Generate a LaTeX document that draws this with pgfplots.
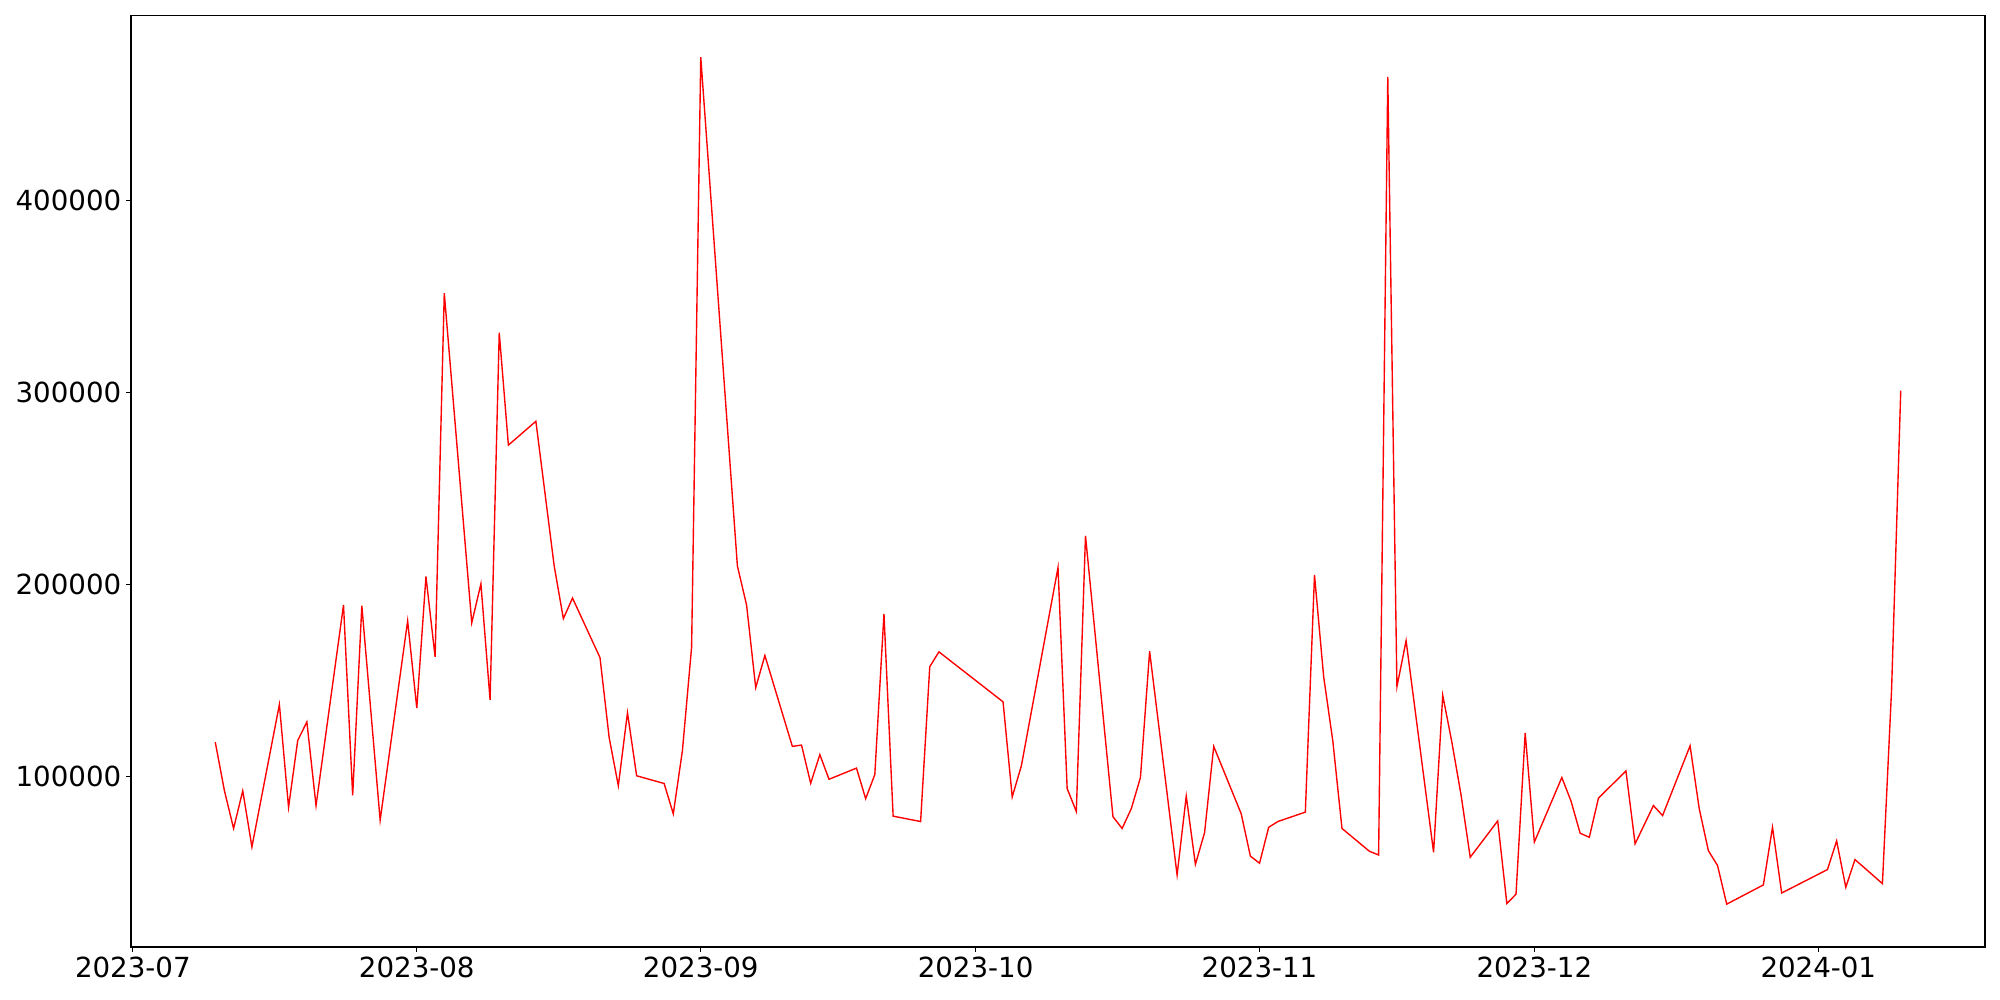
\documentclass[border=0pt]{standalone}
\usepackage{fontspec}
\setmainfont{DejaVu Sans}
\usepackage{pgfplots}
\pgfplotsset{compat=1.18}
\begin{document}
\begin{tikzpicture}
\path[use as bounding box] (-1.31in,-0.53in) rectangle (18.69in,9.47in);
\begin{axis}[
  at={(0,0)}, anchor=south west,
  scale only axis, width=18.54in, height=9.317in,
  xmin=-0.2, xmax=202.2, ymin=11400, ymax=496300,
  xtick={0,31,62,92,123,153,184},
  xticklabels={2023-07,2023-08,2023-09,2023-10,2023-11,2023-12,2024-01},
  ytick={100000,200000,300000,400000},
  yticklabels={100000,200000,300000,400000},
  tick align=outside, tick pos=left,
  major tick length=3.5pt,
  every tick/.style={black, line width=0.8pt},
  axis line style={line width=0.8pt},
  tick label style={font=\fontsize{20}{24}\selectfont},
]
\addplot[red, line width=1pt] table {
x y
9 118000
10 92700
11 73100
12 92700
13 63500
16 137600
17 84100
18 118900
19 128500
20 85000
23 189400
24 90300
25 189000
27 77400
30 181100
31 135700
32 204200
33 162400
34 351700
37 180100
38 200400
39 140000
40 331100
41 272600
44 285000
46 209700
47 182300
48 193000
51 162000
52 120400
53 95300
54 133300
55 100500
58 96500
59 80700
60 113700
61 167400
62 474500
66 209700
67 189400
68 146400
69 163100
72 115800
73 116500
74 96600
75 111500
76 98700
79 104500
80 88600
81 101100
82 184800
83 79500
86 76700
87 157300
88 165000
95 139000
96 89500
97 105700
101 208900
102 93800
103 81900
104 225400
107 79200
108 73100
109 83400
110 99600
111 165300
114 48900
115 89900
116 54400
117 70900
118 115800
121 80700
122 58700
123 55000
124 73700
125 76700
128 81600
129 205000
130 152100
131 118600
132 73100
135 61200
136 59300
137 464200
138 146900
139 170800
142 60700
143 142400
144 117900
145 90500
146 58100
149 77000
150 34000
151 38900
152 122800
153 66000
156 99600
157 87400
158 70600
159 68500
160 88900
163 103000
164 65100
166 85000
167 79800
170 116100
171 83400
172 61500
173 53800
174 33700
178 43700
179 73700
180 39500
185 51700
186 66600
187 42500
188 56900
191 44400
192 145400
193 301000
};
\end{axis}
\end{tikzpicture}
\end{document}
